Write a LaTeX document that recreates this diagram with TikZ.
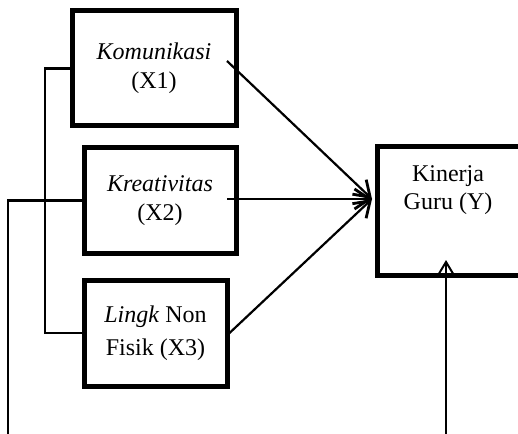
\documentclass[tikz,border=0pt]{standalone}
\usepackage{fontspec}
\setmainfont{Liberation Serif}
\usetikzlibrary{arrows.meta}
\begin{document}
\begin{tikzpicture}[x=1bp,y=-1bp,
  box/.style={draw, line width=5bp, rectangle, inner sep=0pt, align=center,
    font=\fontsize{24bp}{29bp}\selectfont},
  conn/.style={line width=2.2bp},
  arr/.style={conn, -{Straight Barb[length=15bp,width=20bp,line width=2.8bp]}},
  arrup/.style={conn, -{Straight Barb[length=15bp,width=18bp,line width=2bp]}},
  lbl/.style={align=center, inner sep=0pt, font=\fontsize{24bp}{28bp}\selectfont}]
\useasboundingbox (0,0) rectangle (518,434);
\clip (0,0) rectangle (518,434);
% boxes
\node[box, minimum width=164bp, minimum height=115bp] (x1) at (154,68.5) {\textit{Komunikasi}\\(X1)};
\node[box, minimum width=152bp, minimum height=105bp] (x2) at (160,200.5) {\textit{Kreativitas}\\(X2)};
\node[box, minimum width=143bp, minimum height=106bp, font=\fontsize{24bp}{33bp}\selectfont] (x3) at (155.5,333) {\textit{Lingk} Non\\Fisik (X3)};
\node[box, minimum width=153bp, minimum height=128bp] (y) at (453.5,211) {};
\node[lbl] (ytxt) at (448,190) {Kinerja\\Guru (Y)};
% coordinates
\coordinate (a1) at (227,61);
\coordinate (a2) at (227,199);
\coordinate (tip) at (372,199);
\coordinate (bl) at (8,434);
\coordinate (bk1) at (45,68.5);
\coordinate (bk2) at (45,333);
\coordinate (vb) at (446,434);
\coordinate (vt) at (446,260);
% bracket
\draw[conn] (x1.west) -- (bk1) -- (bk2) -- (x3.west);
\draw[conn] (x2.west) -- (bl |- x2.west) -- (bl);
% arrows
\draw[arr] (a1) -- (tip);
\draw[arr] (a2) -- (tip);
\draw[arr] (x3.east) -- (tip);
\draw[arrup] (vb) -- (vt);
\end{tikzpicture}
\end{document}
